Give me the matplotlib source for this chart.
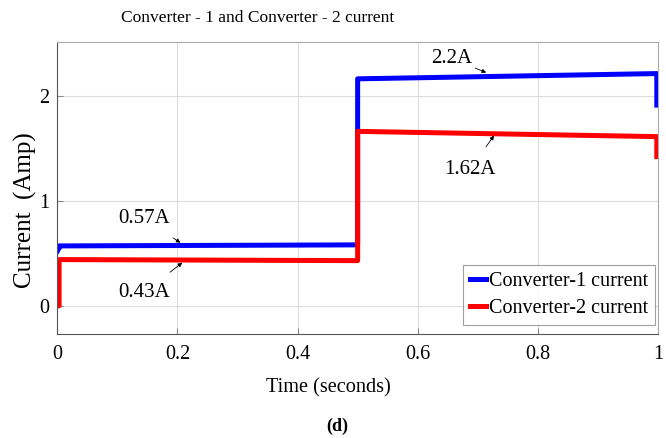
import matplotlib.pyplot as plt

plt.rcParams['font.family'] = ['Liberation Serif', 'DejaVu Serif']

# piecewise waveform breakpoints (time in s, current in A)
t_conv1 = [0.0, 0.003, 0.003, 0.5, 0.5, 0.998, 0.998]
i_conv1 = [0.52, 0.55, 0.57, 0.58, 2.16, 2.21, 1.91]
t_conv2 = [0.0, 0.003, 0.003, 0.5, 0.5, 0.998, 0.998]
i_conv2 = [0.0, 0.0, 0.44, 0.43, 1.66, 1.61, 1.42]

# annotations: label, text position, arrow target
notes = [
    ('0.57A', (0.145, 0.83), (0.205, 0.60)),
    ('0.43A', (0.145, 0.13), (0.208, 0.41)),
    ('2.2A', (0.657, 2.35), (0.714, 2.22)),
    ('1.62A', (0.687, 1.30), (0.727, 1.62)),
]

fig = plt.figure(figsize=(6.66, 4.38), dpi=100)
ax = fig.add_axes([0.086, 0.237, 0.902, 0.667])

ax.plot(t_conv1, i_conv1, color='#0000ff', lw=3.6, label='Converter-1 current')
ax.plot(t_conv2, i_conv2, color='#ff0000', lw=3.6, label='Converter-2 current')

for txt, xy_text, xy in notes:
    ax.annotate(txt, xy=xy, xytext=xy_text, fontsize=15, ha='center', va='center',
                arrowprops=dict(arrowstyle='-|>', color='black', lw=0.6,
                                mutation_scale=6, shrinkA=9, shrinkB=0))

ax.set_xlim(0, 1)
ax.set_ylim(-0.27, 2.51)
ax.set_xticks([0, 0.2, 0.4, 0.6, 0.8, 1])
ax.set_xticklabels(['0', '0.2', '0.4', '0.6', '0.8', '1'])
ax.set_yticks([0, 1, 2])
ax.tick_params(direction='in', length=4, labelsize=14.5, color='#888888', pad=8)
ax.tick_params(axis='y', pad=6)
ax.grid(True, color='#dddddd', lw=0.8)
for sp in ax.spines.values():
    sp.set_color('#aaaaaa')
ax.spines['left'].set_color('#555555')
ax.spines['bottom'].set_color('#555555')

ax.set_xlabel('Time (seconds)', fontsize=14.6, va='top')
ax.xaxis.set_label_coords(0.451, -0.15)
ax.set_ylabel('Current  (Amp)', fontsize=18)
ax.yaxis.set_label_coords(-0.033, 0.425)

fig.text(0.387, 0.958, 'Converter - 1 and Converter - 2 current', fontsize=12.5,
         ha='center', va='center')

leg = ax.legend(loc='lower right', bbox_to_anchor=(0.995, 0.031), borderaxespad=0,
                fontsize=14.5, frameon=True, fancybox=False,
                handlelength=0.8, handletextpad=0.15, borderpad=0.35,
                labelspacing=0.4)
leg.get_frame().set_edgecolor('#888888')
leg.get_frame().set_linewidth(0.8)

fig.text(0.506, 0.027, '(d)', fontsize=13, fontweight='bold', ha='center', va='center')

fig.savefig('out.png', dpi=100)
